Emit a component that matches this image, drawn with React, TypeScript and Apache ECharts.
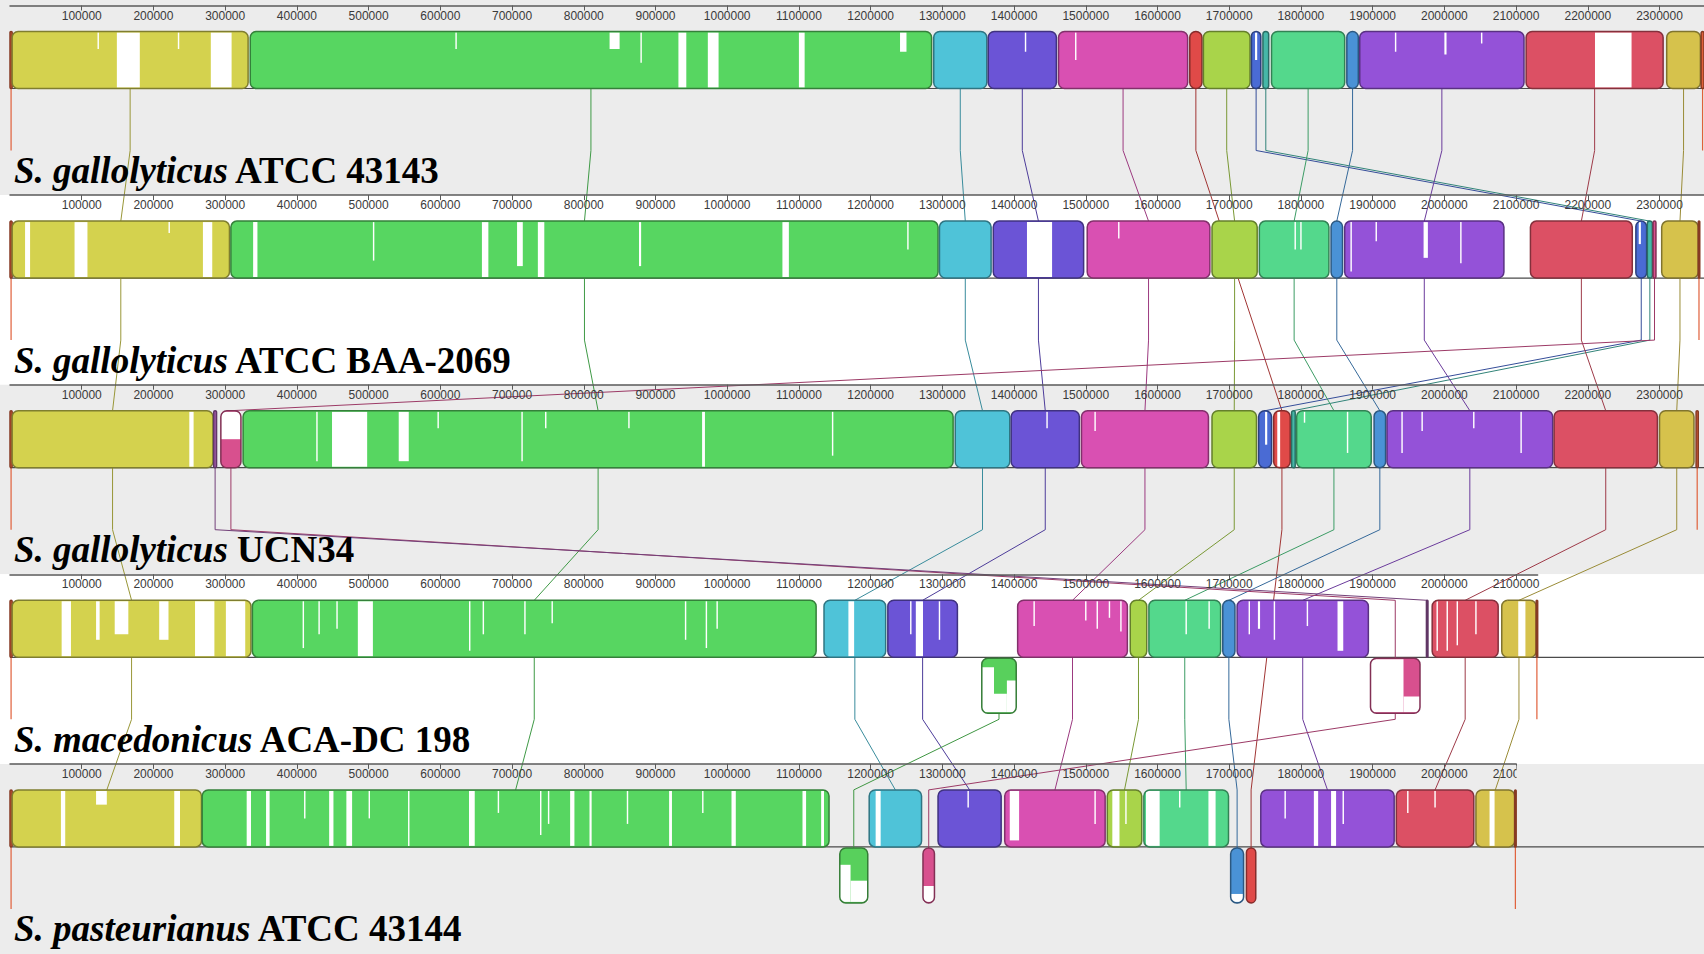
import React, { useEffect, useRef } from "react";
import * as echarts from "echarts";

// ---------- DATA ----------
const speciesNames = ["S. gallolyticus", "S. gallolyticus", "S. gallolyticus", "S. macedonicus", "S. pasteurianus"];
const strainNames = ["ATCC 43143", "ATCC BAA-2069", "UCN34", "ACA-DC 198", "ATCC 43144"];
const genomeLengths = [2362000, 2356000, 2354000, 2130000, 2100000];
const rulerTicks = [100000, 200000, 300000, 400000, 500000, 600000, 700000, 800000, 900000, 1000000, 1100000, 1200000, 1300000, 1400000, 1500000, 1600000, 1700000, 1800000, 1900000, 2000000, 2100000, 2200000, 2300000];

// LCB (locally collinear block) colours, index = LCB id
const lcbNames = ["wrap", "lcb1", "lcb2", "lcb3", "lcb4", "lcb5", "lcb6", "lcb7", "lcb8", "lcb9", "lcb10", "lcb11", "lcb12", "lcb13", "lcb14", "lcb15", "lcb16", "lcb17"];
const lcbColors = ["#e0603a", "#d4d24e", "#57d661", "#4fc3d8", "#6b54d6", "#d950b2", "#e04a48", "#a9d44a", "#4a6bd4", "#46b8a8", "#54d88c", "#4a92d6", "#9452d8", "#dc5064", "#d6c24c", "#58d05c", "#d8508e", "#a05aa8"];
const lcbLinked = [false, true, true, true, true, true, true, true, true, true, true, true, true, true, true, true, true, true];

// blocks per genome: [lcb, start, end, strand]
const blocksG1 = [
  [0, 0, 3000, 1], [1, 3000, 332000, 1], [2, 335000, 1285000, 1], [3, 1288000, 1362000, 1],
  [4, 1364000, 1459000, 1], [5, 1462000, 1642000, 1], [6, 1645000, 1662000, 1], [7, 1664000, 1729000, 1],
  [8, 1731000, 1744000, 1], [9, 1747000, 1755000, 1], [10, 1759000, 1861000, 1], [11, 1864000, 1880000, 1],
  [12, 1882000, 2111000, 1], [13, 2114000, 2305000, 1], [14, 2310000, 2357000, 1], [0, 2358000, 2362000, 1],
];
const blocksG2 = [
  [0, 0, 3000, 1], [1, 3000, 306000, 1], [2, 308000, 1294000, 1], [3, 1296000, 1368000, 1],
  [4, 1371000, 1497000, 1], [5, 1502000, 1673000, 1], [7, 1676000, 1739000, 1], [10, 1742000, 1839000, 1],
  [11, 1842000, 1858000, 1], [12, 1861000, 2083000, 1], [13, 2120000, 2262000, 1], [8, 2267000, 2282000, 1],
  [9, 2283000, 2290000, 1], [16, 2291000, 2295000, 1], [14, 2303000, 2354000, 1], [0, 2354000, 2356000, 1],
];
const blocksG3 = [
  [0, 0, 3000, 1], [1, 3000, 283000, 1], [17, 284000, 288000, 1], [16, 294000, 322000, 1],
  [2, 325000, 1315000, 1], [3, 1318000, 1394000, 1], [4, 1396000, 1491000, 1], [5, 1494000, 1671000, 1],
  [7, 1676000, 1738000, 1], [8, 1741000, 1759000, 1], [6, 1762000, 1785000, 1], [9, 1787000, 1792000, 1],
  [10, 1794000, 1898000, 1], [11, 1902000, 1918000, 1], [12, 1920000, 2151000, 1], [13, 2153000, 2297000, 1],
  [14, 2300000, 2348000, 1], [0, 2351000, 2354000, 1],
];
const blocksG4 = [
  [0, 0, 3000, 1], [1, 3000, 336000, 1], [2, 338000, 1124000, 1], [3, 1135000, 1221000, 1],
  [4, 1224000, 1321000, 1], [15, 1355000, 1403000, -1], [5, 1405000, 1558000, 1], [7, 1562000, 1585000, 1],
  [10, 1588000, 1688000, 1], [11, 1691000, 1708000, 1], [12, 1711000, 1894000, 1], [16, 1897000, 1966000, -1],
  [17, 1975000, 1977000, 1], [13, 1983000, 2075000, 1], [14, 2080000, 2128000, 1], [0, 2128000, 2130000, 1],
];
const blocksG5 = [
  [0, 0, 3000, 1], [1, 3000, 267000, 1], [2, 268000, 1142000, 1], [15, 1157000, 1196000, -1],
  [3, 1198000, 1271000, 1], [16, 1273000, 1289000, -1], [4, 1294000, 1382000, 1], [5, 1387000, 1527000, 1],
  [7, 1530000, 1578000, 1], [10, 1581000, 1699000, 1], [11, 1702000, 1720000, -1], [6, 1724000, 1737000, -1],
  [12, 1744000, 1930000, 1], [13, 1933000, 2041000, 1], [14, 2044000, 2098000, 1], [0, 2098000, 2100000, 1],
];

// low-similarity (white) regions per genome: [start, end, depth fraction]
const gapsG1 = [
  [149000, 181000, 1], [280000, 309000, 1], [122000, 124000, 0.3], [234000, 236000, 0.3],
  [621000, 623000, 0.3], [836000, 850000, 0.3], [879000, 881000, 0.55], [932000, 943000, 1], [973000, 988000, 1],
  [1100000, 1108000, 1], [1241000, 1250000, 0.35], [1415000, 1417000, 0.35], [1485000, 1487000, 0.5],
  [1736000, 1739000, 0.5], [1931000, 1933000, 0.35], [2000000, 2003000, 0.4], [2051000, 2053000, 0.2], [2210000, 2261000, 1],
];
const gapsG2 = [
  [21000, 28000, 1], [90000, 108000, 1], [221000, 223000, 0.2], [269000, 282000, 1],
  [339000, 345000, 1], [506000, 508000, 0.7], [658000, 667000, 1], [707000, 715000, 0.8], [736000, 745000, 1],
  [877000, 880000, 0.8], [1077000, 1086000, 1], [1251000, 1253000, 0.5], [1418000, 1453000, 1], [1545000, 1547000, 0.3],
  [1791000, 1793000, 0.5], [1799000, 1801000, 0.5], [1869000, 1871000, 0.9], [1904000, 1906000, 0.35],
  [1971000, 1977000, 0.65], [2022000, 2024000, 0.75], [2271000, 2274000, 0.4],
];
const gapsG3 = [
  [250000, 256000, 1], [294000, 322000, 0.5], [427000, 429000, 0.9], [449000, 498000, 1], [542000, 556000, 0.9],
  [596000, 598000, 0.3], [713000, 715000, 0.9], [746000, 748000, 0.3], [862000, 864000, 0.3], [965000, 969000, 1],
  [1146000, 1148000, 0.8], [1445000, 1447000, 0.3], [1512000, 1514000, 0.35], [1750000, 1753000, 0.6],
  [1767000, 1771000, 1], [1804000, 1806000, 0.2], [1864000, 1866000, 0.75], [1940000, 1942000, 0.75],
  [1968000, 1970000, 0.35], [2040000, 2042000, 0.3], [2106000, 2108000, 0.75],
];
const gapsG4 = [
  [72000, 85000, 1], [120000, 125000, 0.7], [146000, 165000, 0.6], [208000, 221000, 0.7], [258000, 285000, 1],
  [301000, 328000, 1], [408000, 410000, 0.85], [430000, 432000, 0.6], [455000, 457000, 0.5], [485000, 506000, 1],
  [640000, 642000, 0.9], [659000, 661000, 0.6], [717000, 719000, 0.6], [755000, 757000, 0.4], [941000, 943000, 0.7],
  [970000, 972000, 0.85], [985000, 987000, 0.5], [1169000, 1177000, 1], [1255000, 1257000, 0.6], [1263000, 1273000, 1],
  [1295000, 1297000, 0.7], [1354000, 1372000, 0.85], [1372000, 1390000, 0.35], [1390000, 1404000, 0.6],
  [1427000, 1429000, 0.45], [1499000, 1501000, 0.35], [1515000, 1517000, 0.5], [1532000, 1534000, 0.3],
  [1548000, 1550000, 0.55], [1639000, 1641000, 0.6], [1671000, 1673000, 0.5], [1727000, 1729000, 0.6],
  [1740000, 1743000, 0.5], [1762000, 1764000, 0.7], [1808000, 1810000, 0.45], [1851000, 1859000, 0.9],
  [1897000, 1943000, 1], [1943000, 1966000, 0.3], [1989000, 1991000, 0.9], [2003000, 2005000, 0.9],
  [2017000, 2019000, 0.8], [2043000, 2045000, 0.6], [2103000, 2113000, 1],
];
const gapsG5 = [
  [71000, 77000, 1], [229000, 237000, 1], [120000, 135000, 0.25], [330000, 336000, 1], [357000, 362000, 1],
  [410000, 412000, 0.5], [445000, 451000, 1], [469000, 477000, 1], [500000, 502000, 0.5], [555000, 557000, 1],
  [640000, 648000, 1], [680000, 682000, 0.4], [739000, 741000, 0.8], [750000, 752000, 0.6], [781000, 787000, 1],
  [808000, 811000, 1], [860000, 862000, 0.6], [919000, 923000, 1], [965000, 967000, 0.4], [1006000, 1012000, 1],
  [1105000, 1110000, 1], [1131000, 1135000, 1], [1157000, 1172000, 0.7], [1172000, 1196000, 0.4],
  [1207000, 1214000, 1], [1273000, 1289000, 0.3], [1335000, 1337000, 0.3], [1394000, 1407000, 0.9],
  [1512000, 1514000, 0.6], [1537000, 1547000, 1], [1555000, 1557000, 0.6], [1584000, 1603000, 1],
  [1630000, 1632000, 0.3], [1671000, 1681000, 1], [1702000, 1720000, 0.15], [1777000, 1779000, 0.5],
  [1818000, 1824000, 1], [1842000, 1849000, 1], [1858000, 1860000, 0.6], [1948000, 1950000, 0.4],
  [1986000, 1988000, 0.3], [2063000, 2070000, 1],
];

const genomeBlocks = [blocksG1, blocksG2, blocksG3, blocksG4, blocksG5];
const genomeGaps = [gapsG1, gapsG2, gapsG3, gapsG4, gapsG5];
const panelBg = ["#ececec", "#ffffff", "#ececec", "#ffffff", "#ececec"];

// ---------- LAYOUT ----------
const CHART_W = 1704;
const CHART_H = 954;
const GRID_LEFT = 10;
const XMAX = 2362000;
const PX = (CHART_W - GRID_LEFT) / XMAX;
const PANEL_TOP0 = 5.5;
const PANEL_STEP = 189.6;
const BLOCK_TOP = 26;
const CENTER = 83;
const REV_BOTTOM = 139;
const LINK_Y = 145;
const LABEL_MID = 165;
const LABEL_SIZE = 37;
const SERIF = '"Liberation Serif", "Times New Roman", serif';

const panelTop = (g: number) => PANEL_TOP0 + g * PANEL_STEP;

function darken(hex: string, f: number) {
  const n = parseInt(hex.slice(1), 16);
  const r = Math.round(((n >> 16) & 255) * f);
  const g = Math.round(((n >> 8) & 255) * f);
  const b = Math.round((n & 255) * f);
  return `rgb(${r},${g},${b})`;
}

function buildOption() {
  const grids: any[] = [{ left: GRID_LEFT, top: 0, width: CHART_W - GRID_LEFT, height: CHART_H }];
  const xAxes: any[] = [{ gridIndex: 0, type: "value", min: 0, max: XMAX, show: false }];
  const yAxes: any[] = [{ gridIndex: 0, type: "value", min: 0, max: CHART_H, inverse: true, show: false }];

  genomeLengths.forEach((len, g) => {
    const end = len > 2300000 ? XMAX : len;
    const ticks = rulerTicks.filter((t) => t <= end);
    grids.push({ left: GRID_LEFT, top: panelTop(g), width: end * PX, height: 30 });
    xAxes.push({
      gridIndex: g + 1,
      type: "value",
      position: "top",
      min: 0,
      max: end,
      z: 5,
      axisLine: { show: true, onZero: false, lineStyle: { color: "#5a5a5a", width: 1.5 } },
      axisTick: { show: true, inside: true, length: 5, customValues: ticks, lineStyle: { color: "#5a5a5a" } },
      axisLabel: {
        show: true,
        inside: true,
        margin: 4,
        customValues: ticks,
        fontSize: 12,
        color: "#3a3a3a",
        fontFamily: '"Liberation Sans", Arial, sans-serif',
        formatter: (v: number) => String(v),
      },
      splitLine: { show: false },
    });
    yAxes.push({ gridIndex: g + 1, type: "value", show: false });
  });

  const blockData: any[] = [];
  genomeBlocks.forEach((arr, g) => arr.forEach((b) => blockData.push([g, b[1], b[2], b[3], b[0]])));

  const panelSeries = {
    type: "custom",
    coordinateSystem: "cartesian2d",
    xAxisIndex: 0,
    yAxisIndex: 0,
    z: 1,
    silent: true,
    clip: false,
    data: panelBg.map((_, i) => [i]),
    renderItem: (params: any, api: any) => {
      const g = api.value(0);
      const T = panelTop(g);
      const yTop = g === 0 ? 0 : api.coord([0, T])[1];
      const yBot = g === 4 ? CHART_H : api.coord([0, panelTop(g + 1)])[1];
      const W = api.getWidth();
      const c = api.coord([0, T + CENTER]);
      return {
        type: "group",
        children: [
          { type: "rect", shape: { x: 0, y: yTop, width: W, height: yBot - yTop }, style: { fill: panelBg[g] } },
          { type: "line", shape: { x1: c[0], y1: c[1], x2: W, y2: c[1] }, style: { stroke: "#4a4a4a", lineWidth: 1.2 } },
        ],
      };
    },
  };

  const linkSeries = {
    type: "custom",
    coordinateSystem: "cartesian2d",
    xAxisIndex: 0,
    yAxisIndex: 0,
    z: 2,
    silent: true,
    clip: false,
    data: lcbNames.map((_, i) => [i]),
    renderItem: (params: any, api: any) => {
      const l = api.value(0);
      const color = darken(lcbColors[l], 0.72);
      const pres: any[] = [];
      genomeBlocks.forEach((arr, g) =>
        arr.forEach((b) => {
          if (b[0] === l) pres.push({ g, s: b[1], e: b[2], str: b[3] });
        })
      );
      if (!lcbLinked[l]) {
        return {
          type: "group",
          children: pres.map((p) => {
            const T = panelTop(p.g);
            const xc = (p.s + p.e) / 2;
            const a = api.coord([xc, T + CENTER]);
            const b = api.coord([xc, T + LINK_Y]);
            return { type: "line", shape: { x1: a[0], y1: a[1], x2: b[0], y2: b[1] }, style: { stroke: lcbColors[l], lineWidth: 1.2 } };
          }),
        };
      }
      if (pres.length < 2) return { type: "group", children: [] };
      const pts: any[] = [];
      pres.forEach((p, k) => {
        const T = panelTop(p.g);
        const xc = (p.s + p.e) / 2;
        const top = k === 0 ? (p.str > 0 ? T + BLOCK_TOP : T + CENTER) : T + BLOCK_TOP;
        const bot = k === pres.length - 1 ? (p.str > 0 ? T + CENTER : T + REV_BOTTOM) : T + LINK_Y;
        pts.push(api.coord([xc, top]), api.coord([xc, bot]));
      });
      return { type: "polyline", shape: { points: pts }, style: { stroke: color, lineWidth: 1, fill: "none" } };
    },
  };

  const blockSeries = {
    type: "custom",
    coordinateSystem: "cartesian2d",
    xAxisIndex: 0,
    yAxisIndex: 0,
    z: 3,
    silent: true,
    clip: false,
    data: blockData,
    renderItem: (params: any, api: any) => {
      const g = api.value(0);
      const s = api.value(1);
      const e = api.value(2);
      const str = api.value(3);
      const l = api.value(4);
      const T = panelTop(g);
      const yA = str > 0 ? T + BLOCK_TOP : T + CENTER + 1;
      const yB = str > 0 ? T + CENTER : T + REV_BOTTOM;
      const p0 = api.coord([s, yA]);
      const p1 = api.coord([e, yB]);
      const x0 = p0[0];
      const w = Math.max(p1[0] - p0[0], 1.5);
      const h = p1[1] - p0[1];
      const r = Math.min(6, w / 2);
      const children: any[] = [
        { type: "rect", shape: { x: x0, y: p0[1], width: w, height: h, r }, style: { fill: lcbColors[l] } },
      ];
      genomeGaps[g].forEach((gp) => {
        const gs = Math.max(gp[0], s);
        const ge = Math.min(gp[1], e);
        if (ge <= gs) return;
        const a = api.coord([gs, yA]);
        const b = api.coord([ge, yA]);
        const gh = gp[2] * (h - 2);
        const gy = str > 0 ? p0[1] + 1 : p1[1] - 1 - gh;
        children.push({
          type: "rect",
          shape: { x: a[0], y: gy, width: Math.max(b[0] - a[0], 1), height: gh },
          style: { fill: "#ffffff" },
        });
      });
      children.push({
        type: "rect",
        shape: { x: x0, y: p0[1], width: w, height: h, r },
        style: { fill: "none", stroke: darken(lcbColors[l], 0.6), lineWidth: 1.5 },
      });
      return { type: "group", children };
    },
  };

  const textEls = speciesNames.map((sp, g) => ({
    type: "text",
    x: 14,
    y: panelTop(g) + LABEL_MID,
    z: 10,
    silent: true,
    style: {
      text: `{i|${sp}}{b| ${strainNames[g]}}`,
      verticalAlign: "middle",
      fill: "#000",
      fontFamily: SERIF,
      fontSize: LABEL_SIZE,
      fontWeight: "bold",
      rich: {
        i: { fontFamily: SERIF, fontSize: LABEL_SIZE, fontWeight: "bold", fontStyle: "italic", fill: "#000" },
        b: { fontFamily: SERIF, fontSize: LABEL_SIZE, fontWeight: "bold", fill: "#000" },
      },
    },
  }));

  const maskEls = [
    {
      type: "rect",
      z: 10,
      silent: true,
      shape: { x: GRID_LEFT + genomeLengths[4] * PX + 0.5, y: panelTop(4) + 1.5, width: 300, height: 20 },
      style: { fill: panelBg[4] },
    },
  ];

  return {
    animation: false,
    backgroundColor: "#ffffff",
    grid: grids,
    xAxis: xAxes,
    yAxis: yAxes,
    graphic: { elements: [...textEls, ...maskEls] },
    series: [panelSeries, linkSeries, blockSeries],
  };
}

export default function App() {
  const ref = useRef<HTMLDivElement>(null);
  useEffect(() => {
    if (!ref.current) return;
    const chart = echarts.init(ref.current, null, { renderer: "svg" });
    chart.setOption(buildOption() as any);
    return () => chart.dispose();
  }, []);
  return <div ref={ref} style={{ position: "absolute", left: 0, top: 0, width: CHART_W, height: CHART_H }} />;
}
